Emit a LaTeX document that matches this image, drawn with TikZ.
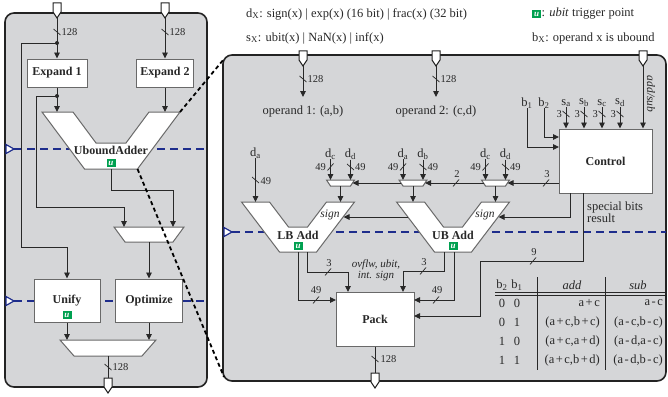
\documentclass[tikz,border=0pt]{standalone}
\usepackage{fontspec}
\setmainfont{Liberation Serif}
\usetikzlibrary{arrows.meta}
\definecolor{panelfill}{RGB}{213,214,216}
\definecolor{panelline}{RGB}{35,35,35}
\definecolor{wirec}{RGB}{40,40,40}
\definecolor{boxline}{RGB}{105,105,105}
\definecolor{pipeblue}{RGB}{30,45,140}
\definecolor{ugreen}{RGB}{0,160,80}
\newcommand{\myfs}[1]{\fontsize{#1}{#1}\selectfont}
\tikzset{
 panel/.style={fill=panelfill, draw=panelline, line width=1.6pt, rounded corners=9pt},
 wire/.style={draw=wirec, line width=0.9pt},
 arr/.style={wire, -{Triangle[length=6pt,width=5.5pt]}},
 blockbox/.style={draw=boxline, fill=white, line width=1pt, font=\myfs{12}\bfseries, inner sep=0pt, text=wirec},
 addshape/.style={draw=boxline, fill=white, line width=1pt},
 muxshape/.style={draw=boxline, fill=white, line width=1pt},
 portshape/.style={draw=panelline, fill=white, line width=1pt},
 pipe/.style={draw=pipeblue, line width=1.4pt, dash pattern=on 8pt off 5pt},
 pipemark/.style={draw=pipeblue, fill=white, line width=1.2pt},
 zoomline/.style={draw=black, line width=1.8pt, dash pattern=on 4pt off 3pt},
 lbl/.style={font=\myfs{10.5}, inner sep=0.5pt, text=wirec},
 txt/.style={font=\myfs{12.5}, inner sep=0pt, text=wirec},
 bold/.style={font=\myfs{12}\bfseries, inner sep=0pt, text=wirec},
 itl/.style={font=\myfs{11.5}\itshape, inner sep=0pt, text=wirec},
 uicon/.style={fill=ugreen, text=white, font=\myfs{9}\bfseries\itshape, inner sep=0pt, minimum width=9pt, minimum height=8pt},
 slashmark/.style={draw=wirec, line width=0.7pt},
}
\newcommand{\slashbs}[1]{\draw[slashmark] (#1) ++(-3.5,-3) -- ++(7,6);}
\newcommand{\slashfw}[1]{\draw[slashmark] (#1) ++(-3,3.5) -- ++(6,-7);}
\newcommand{\port}[3]{\draw[portshape] ({#2-4},#3) -- ({#2+4},#3) -- ({#2+4},{#3+9}) -- (#2,{#3+15}) -- ({#2-4},{#3+9}) -- cycle;
 \coordinate (#1) at (#2,{#3+15}); \coordinate (#1t) at (#2,#3);}
\newcommand{\smux}[2]{\draw[muxshape] ({#2-14},180) -- ({#2+14},180) -- ({#2+10},186) -- ({#2-10},186) -- cycle;
 \coordinate (#1o) at (#2,186); \coordinate (#1r) at ({#2+12},183); \coordinate (#1l) at ({#2-12},183);
 \coordinate (#1a) at ({#2-10},180); \coordinate (#1b) at ({#2+10},180);}
\begin{document}
\begin{tikzpicture}[x=1pt,y=-1pt]
\useasboundingbox (0,0) rectangle (668,396);
% panels
\draw[panel] (5,13) rectangle (207,387);
\draw[panel] (223,55) rectangle (666,381);
\coordinate (rpTL) at (224,59);
\coordinate (rpBL) at (224,377);
% pipeline stages
\draw[pipe] (14,149) -- (207,149);
\draw[pipe] (14,301) -- (207,301);
\draw[pipe] (232,232) -- (666,232);
\draw[pipemark] (6,144.5) -- (14,149) -- (6,153.5) -- cycle;
\draw[pipemark] (6,296.5) -- (14,301) -- (6,305.5) -- cycle;
\draw[pipemark] (224,227.5) -- (232,232) -- (224,236.5) -- cycle;
% legend
\node[txt, anchor=west] (leg1) at (246,14) {d\textsubscript{X}: sign(x) | exp(x) (16 bit) | frac(x) (32 bit)};
\node[txt, anchor=west] (leg2) at (246,38) {s\textsubscript{X}: ubit(x) | NaN(x) | inf(x)};
\node[uicon, anchor=west] (legu) at (532,14) {u};
\node[txt, anchor=west] (leg3) at (legu.east) {: \textit{ubit} trigger point};
\node[txt, anchor=west] (leg4) at (532,38) {b\textsubscript{X}: operand x is ubound};

% ===== left panel =====
\port{inA}{57}{3}
\port{inB}{165}{3}
\port{outL}{108}{378}
\node[blockbox, minimum width=60pt, minimum height=28pt] (exp1) at (57,73) {Expand 1};
\node[blockbox, minimum width=57pt, minimum height=28pt] (exp2) at (165,73) {Expand 2};
\node[blockbox, minimum width=66pt, minimum height=43pt] (unify) at (67,300.5) {Unify};
\node[blockbox, minimum width=67pt, minimum height=43pt] (optim) at (149,300.5) {Optimize};
\node[uicon] (unu) at (67,315) {u};
% ubound adder
\draw[addshape] (42,112) -- (73,112) -- (96,143) -- (126,143) -- (149,112) -- (180,112) -- (137.5,169) -- (84.5,169) -- cycle;
\coordinate (ual) at (57,112);
\coordinate (uar) at (165,112);
\coordinate (uao) at (111,169);
\coordinate (uatr) at (180,112);
\coordinate (uabr) at (137.5,169);
\node[bold] (uatxt) at (111,150) {UboundAdder};
\node[uicon] (uau) at (111,163) {u};
% muxes
\draw[muxshape] (114,227) -- (184,227) -- (173,242) -- (125,242) -- cycle;
\coordinate (mxa) at (124,227);
\coordinate (mxb) at (173,227);
\coordinate (mxo) at (149,242);
\draw[muxshape] (60,340) -- (156,340) -- (142,356) -- (74,356) -- cycle;
\coordinate (omxa) at (67,340);
\coordinate (omxb) at (149,340);
\coordinate (omxo) at (108,356);
% wires
\coordinate (j1) at (57,43);
\coordinate (j2) at (57,96);
\draw[arr] (inA) -- (exp1.north);
\slashbs{57,32}
\node[lbl, anchor=west] (l128a) at (61,32) {128};
\draw[arr] (inB) -- (exp2.north);
\slashbs{165,32}
\node[lbl, anchor=west] (l128b) at (169,32) {128};
\draw[arr] (j1) -- (21,43) -- (21,247) -- (67,247) -- (unify.north);
\fill[wirec] (j1) circle (2pt);
\draw[wire] (exp1.south) -- (j2);
\draw[arr] (j2) -- (ual);
\draw[arr] (j2) -- (36,96) -- (36,207) -| (mxa);
\fill[wirec] (j2) circle (2pt);
\draw[arr] (exp2.south) -- (uar);
\draw[arr] (uao) -- (111,190) -| (mxb);
\draw[arr] (mxo) -- (optim.north);
\draw[arr] (unify.south) -- (omxa);
\draw[arr] (optim.south) -- (omxb);
\draw[wire] (omxo) -- (outLt);
\slashbs{108,367}
\node[lbl, anchor=west] (l128c) at (112,367) {128};

% ===== right panel =====
\port{inC}{303}{51}
\port{inD}{436}{51}
\port{inE}{643}{51}
\port{outR}{375}{373}
\node[txt] (op1) at (303,111) {operand 1: (a,b)};
\node[txt] (op2) at (436,111) {operand 2: (c,d)};
\coordinate (op1in) at (303,97);
\coordinate (op2in) at (436,97);
\draw[arr] (inC) -- (op1in);
\slashbs{303,79}
\node[lbl, anchor=west] (l128d) at (307,79) {128};
\draw[arr] (inD) -- (op2in);
\slashbs{436,79}
\node[lbl, anchor=west] (l128e) at (440,79) {128};
\node[blockbox, minimum width=93pt, minimum height=64pt] (ctrl) at (605.5,161) {Control};
\draw[arr] (inE) -- (inE |- ctrl.north);
\node[itl, rotate=-90] (addsub) at (651,94) {add/sub};
% b and s inputs
\node[txt] (b1) at (527,103) {b\textsubscript{1}};
\node[txt] (b2) at (544,103) {b\textsubscript{2}};
\coordinate (cb1) at (559,147);
\coordinate (cb2) at (559,137);
\draw[arr] (b1.south) |- (cb1);
\draw[arr] (b2.south) |- (cb2);
\foreach \nm/\xx/\sb in {sa/566/a, sb/584/b, sc/602/c, sd/620/d}{
  \node[txt] (\nm) at (\xx,103) {s\textsubscript{\sb}};
  \draw[arr] (\nm.south) -- (\nm.south |- ctrl.north);
  \slashbs{\xx,114}
  \node[lbl, anchor=east] (\nm w) at (\xx-3.5,114) {3};
}
% small muxes
\smux{mA}{340.5}
\smux{mB}{413}
\smux{mC}{495.5}
\foreach \nm/\xx/\sb in {dca/330.5/c, dda/350.5/d, dab/403/a, dbb/423/b, dcc/485.5/c, ddc/505.5/d}{
  \node[txt] (\nm) at (\xx,154) {d\textsubscript{\sb}};
}
\draw[arr] (dca.south) -- (mAa);
\draw[arr] (dda.south) -- (mAb);
\draw[arr] (dab.south) -- (mBa);
\draw[arr] (dbb.south) -- (mBb);
\draw[arr] (dcc.south) -- (mCa);
\draw[arr] (ddc.south) -- (mCb);
\foreach \xl/\xr/\k in {330.5/350.5/A, 403/423/B, 485.5/505.5/C}{
  \slashfw{\xl,167}
  \node[lbl, anchor=east] (w49l\k) at (\xl-4,167.5) {49};
  \slashbs{\xr,167}
  \node[lbl, anchor=west] (w49r\k) at (\xr+4,167.5) {49};
}
\coordinate (csel) at (559,183);
\draw[arr] (csel) -- (mCr);
\draw[arr] (mCl) -- (mBr);
\draw[arr] (mBl) -- (mAr);
\slashfw{546,183}
\node[lbl] (sel3) at (547,174) {3};
\slashfw{456,183}
\node[lbl] (sel2) at (457,174) {2};
% adders
\draw[addshape] (241.5,202) -- (269.5,202) -- (288.5,227) -- (307.5,227) -- (326.5,202) -- (354.5,202) -- (316.5,252) -- (279.5,252) -- cycle;
\draw[addshape] (396.5,202) -- (424.5,202) -- (443.5,227) -- (462.5,227) -- (481.5,202) -- (509.5,202) -- (471.5,252) -- (434.5,252) -- cycle;
\node[bold] (lbtxt) at (298,235) {LB Add};
\node[uicon] (lbu) at (298,246) {u};
\node[itl] (lbsign) at (330,215) {sign};
\node[bold] (ubtxt) at (453,235) {UB Add};
\node[uicon] (ubu) at (453,246) {u};
\node[itl] (ubsign) at (485,215) {sign};
\coordinate (lbl) at (255.5,202);
\coordinate (lbr) at (340.5,202);
\coordinate (ubl) at (413,202);
\coordinate (ubr) at (495.5,202);
\draw[arr] (mAo) -- (lbr);
\draw[arr] (mBo) -- (ubl);
\draw[arr] (mCo) -- (ubr);
\node[txt] (daa) at (255.5,153) {d\textsubscript{a}};
\draw[arr] (daa.south) -- (lbl);
\slashbs{255.5,180}
\node[lbl, anchor=west] (w49d) at (260,181) {49};
\coordinate (ubedge) at (408,217);
\coordinate (lbsignin) at (343.5,217);
\draw[arr] (ubedge) -- (lbsignin);
\coordinate (cs1) at (570,193);
\coordinate (cs2) at (583,193);
\coordinate (ubsignin) at (498.5,217);
\draw[arr] (cs1) |- (ubsignin);
\node[txt, anchor=west, align=left, font=\fontsize{12.5}{11}\selectfont] (spb) at (587,212) {special bits\\result};
% pack
\node[blockbox, minimum width=78pt, minimum height=54pt] (pack) at (375,319) {Pack};
\coordinate (pkl) at (336,300);
\coordinate (pkr1) at (414,300);
\coordinate (pkr2) at (414,316);
\coordinate (pkt1) at (348,292);
\coordinate (pkt2) at (403,292);
\coordinate (lbo1) at (298,252);
\coordinate (lbo2) at (307.5,252);
\coordinate (ubo1) at (444,252);
\coordinate (ubo2) at (454,252);
\draw[arr] (lbo1) |- (pkl);
\slashfw{316,300}
\node[lbl] (w49e) at (316,290) {49};
\draw[arr] (lbo2) -- (307.5,272) -| (pkt1);
\slashfw{328,272}
\node[lbl] (w3a) at (329,263) {3};
\draw[arr] (ubo1) -- (444,271) -| (pkt2);
\slashfw{423,271}
\node[lbl] (w3b) at (424,262) {3};
\draw[arr] (ubo2) |- (pkr1);
\slashfw{436,300}
\node[lbl] (w49f) at (437,290) {49};
\draw[arr] (cs2) -- (583,261) -- (480,261) |- (pkr2);
\slashfw{533,261}
\node[lbl] (w9) at (534,252) {9};
\node[itl, align=center, font=\fontsize{11}{8.5}\selectfont\itshape] (ovf) at (376,270) {ovflw, ubit,\\int. sign};
\draw[wire] (pack.south) -- (outRt);
\slashbs{375,359}
\node[lbl, anchor=west] (l128f) at (380,359) {128};
% table
\node[txt] (th2) at (502,285) {b\textsubscript{2}};
\node[txt] (th1) at (517,285) {b\textsubscript{1}};
\node[txt, font=\myfs{12.5}\itshape] (thadd) at (572,285) {add};
\node[txt, font=\myfs{12.5}\itshape] (thsub) at (638,285) {sub};
\draw[wire, line width=0.7pt] (537,277) -- (537,370);
\draw[wire, line width=0.7pt] (605,277) -- (605,370);
\draw[wire, line width=0.7pt] (495,292.5) -- (665,292.5);
\draw[wire, line width=0.7pt] (495,295.5) -- (665,295.5);
\foreach \yy/\bb/\ba/\ad/\sbt/\k in {303/0/0/{a\kern1.5pt+\kern1.5pt c}/{a\kern1.5pt-\kern1.5pt c}/1,
  322/0/1/{(a\kern1.5pt+\kern1.5pt c,b\kern1.5pt+\kern1.5pt c)}/{(a\kern1.5pt-\kern1.5pt c,b\kern1.5pt-\kern1.5pt c)}/2,
  341/1/0/{(a\kern1.5pt+\kern1.5pt c,a\kern1.5pt+\kern1.5pt d)}/{(a\kern1.5pt-\kern1.5pt d,a\kern1.5pt-\kern1.5pt c)}/3,
  360/1/1/{(a\kern1.5pt+\kern1.5pt c,b\kern1.5pt+\kern1.5pt d)}/{(a\kern1.5pt-\kern1.5pt d,b\kern1.5pt-\kern1.5pt c)}/4}{
  \node[txt] (tb2\k) at (502,\yy) {\bb};
  \node[txt] (tb1\k) at (517,\yy) {\ba};
  \node[txt, anchor=east] (tad\k) at (600,\yy) {\ad};
  \node[txt, anchor=east] (tsb\k) at (663,\yy) {\sbt};
}
% zoom lines
\draw[zoomline] (uatr) -- (rpTL);
\draw[zoomline] (uabr) -- (rpBL);
\end{tikzpicture}
\end{document}
